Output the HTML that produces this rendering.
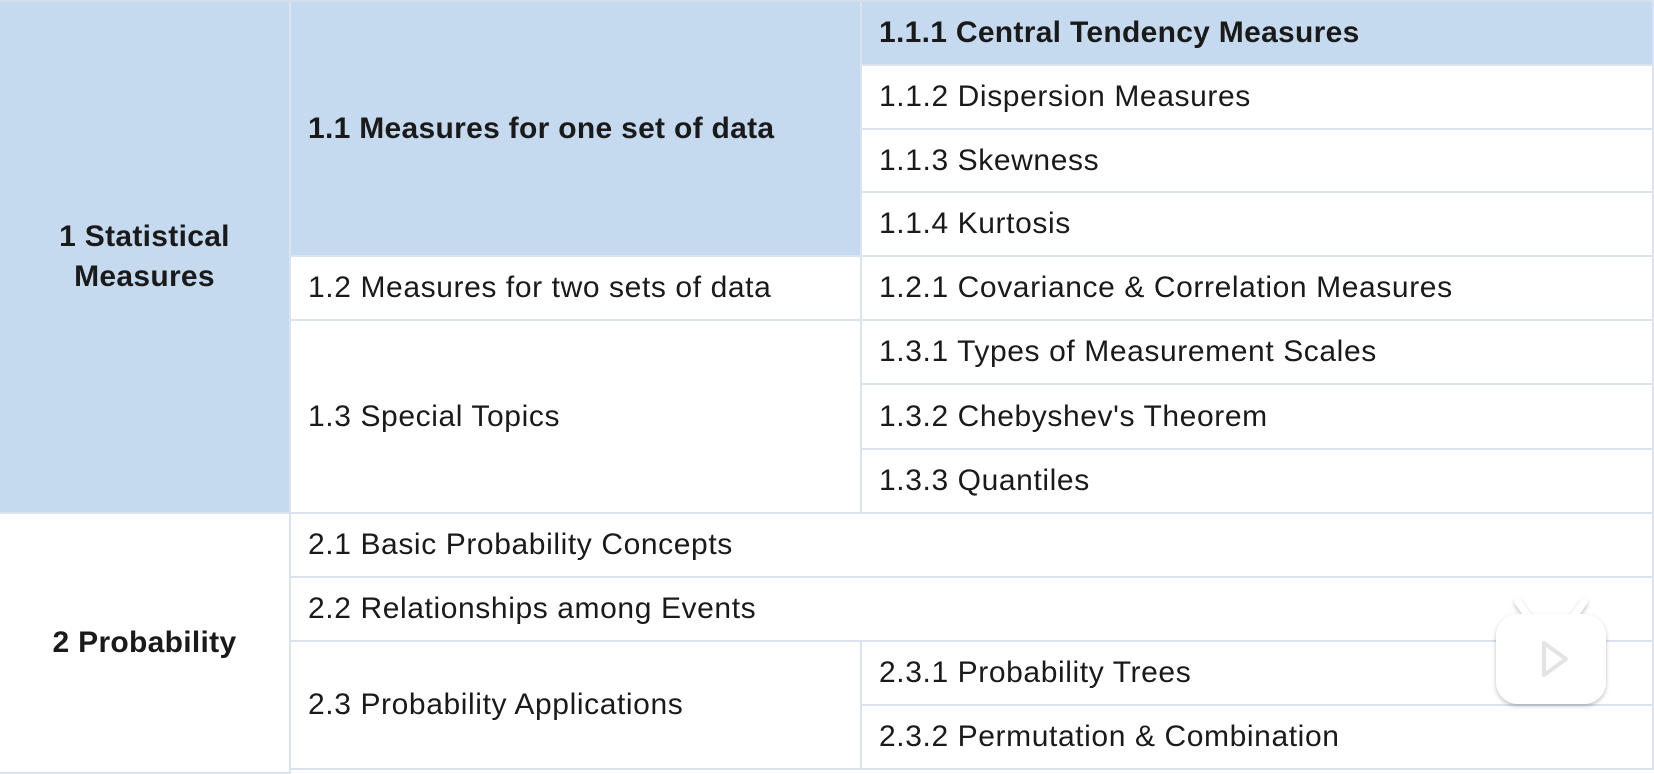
<!DOCTYPE html>
<html><head><meta charset="utf-8"><style>
body{margin:0;width:1654px;height:766px;overflow:hidden;background:#fff;font-family:"Liberation Sans",sans-serif;color:#1a1a1a;position:relative}
.c{position:absolute;box-sizing:border-box;display:flex;align-items:center;font-size:30px;border-right:2px solid #dbe3f1;border-bottom:2px solid #dbe3f1;padding-left:17px;white-space:nowrap;letter-spacing:0.6px}
.b{background:#c6daef}
.bold{font-weight:bold;letter-spacing:0.3px}
.ctr{justify-content:center;text-align:center;padding-left:0;line-height:40px}
</style></head><body>
<div style="position:absolute;left:0;top:0;width:1654px;height:2px;background:#d4e0ee"></div>
<div class="c b bold ctr" style="left:0;top:2px;width:291px;height:512px">1 Statistical<br>Measures</div>
<div class="c b bold" style="left:291px;top:2px;width:571px;height:255px">1.1 Measures for one set of data</div>
<div class="c b bold" style="left:862px;top:2px;width:792px;height:64px">1.1.1 Central Tendency Measures</div>
<div class="c" style="left:862px;top:66px;width:792px;height:64px">1.1.2 Dispersion Measures</div>
<div class="c" style="left:862px;top:130px;width:792px;height:63px">1.1.3 Skewness</div>
<div class="c" style="left:862px;top:193px;width:792px;height:64px">1.1.4 Kurtosis</div>
<div class="c" style="left:291px;top:257px;width:571px;height:64px">1.2 Measures for two sets of data</div>
<div class="c" style="left:862px;top:257px;width:792px;height:64px">1.2.1 Covariance &amp; Correlation Measures</div>
<div class="c" style="left:291px;top:321px;width:571px;height:193px">1.3 Special Topics</div>
<div class="c" style="left:862px;top:321px;width:792px;height:64px">1.3.1 Types of Measurement Scales</div>
<div class="c" style="left:862px;top:385px;width:792px;height:65px">1.3.2 Chebyshev's Theorem</div>
<div class="c" style="left:862px;top:450px;width:792px;height:64px">1.3.3 Quantiles</div>
<div class="c bold ctr" style="left:0;top:514px;width:291px;height:260px">2 Probability</div>
<div class="c" style="left:291px;top:514px;width:1363px;height:64px">2.1 Basic Probability Concepts</div>
<div class="c" style="left:291px;top:578px;width:1363px;height:64px">2.2 Relationships among Events</div>
<div class="c" style="left:291px;top:642px;width:571px;height:128px">2.3 Probability Applications</div>
<div class="c" style="left:862px;top:642px;width:792px;height:64px">2.3.1 Probability Trees</div>
<div class="c" style="left:862px;top:706px;width:792px;height:64px">2.3.2 Permutation &amp; Combination</div>
<svg style="position:absolute;left:1490px;top:596px" width="122" height="116" viewBox="0 0 122 116">
<defs><filter id="s"><feDropShadow dx="0" dy="2" stdDeviation="2" flood-color="#000" flood-opacity="0.25"/></filter></defs>
<g filter="url(#s)" fill="#fff">
<path d="M38 20 L28 6 M84 20 L94 6" stroke="#fff" stroke-width="7" stroke-linecap="round"/>
<rect x="6" y="18" width="110" height="90" rx="22"/>
</g>
<path d="M54 47 L54 79 L76 63 Z" fill="none" stroke="#e4e4e4" stroke-width="4" stroke-linejoin="round"/>
</svg>
</body></html>
